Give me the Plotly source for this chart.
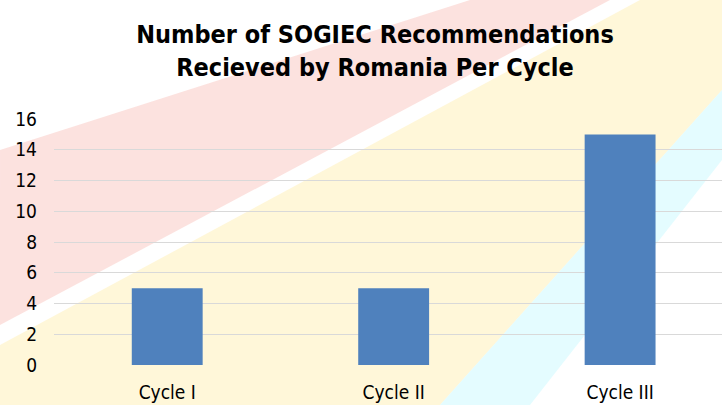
import plotly.graph_objects as go

categories = ["Cycle I", "Cycle II", "Cycle III"]
recommendations = [5, 5, 15]
y_ticks = [0, 2, 4, 6, 8, 10, 12, 14, 16]

W, H = 722, 405
L, R, T, B = 54, 0, 119, 40
pw, ph = W - L - R, H - T - B

def px(x, y):
    return (x - L) / pw, (H - B - y) / ph

def poly(points, color):
    pts = [px(x, y) for x, y in points]
    path = "M " + " L ".join(f"{a:.4f},{b:.4f}" for a, b in pts) + " Z"
    return dict(type="path", xref="paper", yref="paper", path=path,
                fillcolor=color, line=dict(width=0), layer="below")

shapes = [
    poly([(0, 150), (470, 0), (610, 0), (0, 325)], "rgba(248,190,185,0.45)"),
    poly([(0, 345), (640, 0), (722, 0), (722, 90), (440, 405), (0, 405)], "rgba(255,240,180,0.5)"),
    poly([(440, 405), (530, 405), (722, 160), (722, 90)], "rgba(205,250,255,0.55)"),
]

fig = go.Figure(go.Bar(
    x=categories, y=recommendations,
    marker=dict(color="#4f81bd", line=dict(width=0)),
    width=0.313,
))

font_fam = "DejaVu Sans Condensed, Liberation Sans Narrow, Arial Narrow, Liberation Sans, sans-serif"

fig.update_layout(
    width=W, height=H,
    margin=dict(l=L, r=R, t=T, b=B),
    paper_bgcolor="white", plot_bgcolor="rgba(0,0,0,0)",
    shapes=shapes,
    title=dict(
        text="<b>Number of SOGIEC Recommendations<br>Recieved by Romania Per Cycle</b>",
        x=375 / W, xanchor="center", y=1 - 43 / H, yanchor="middle",
        font=dict(family=font_fam, size=25, color="black"),
    ),
    xaxis=dict(
        range=[-0.5, 2.45], showgrid=False, zeroline=False, showline=False,
        ticks="", ticklabelstandoff=14, automargin=False,
        tickfont=dict(family=font_fam, size=19, color="black"),
    ),
    yaxis=dict(
        range=[0, 16], tickvals=y_ticks, showgrid=True, gridcolor="#d9d9d9",
        gridwidth=1.3, zeroline=False, showline=False, ticks="",
        ticklabelstandoff=16, automargin=False,
        tickfont=dict(family=font_fam, size=19, color="black"),
    ),
    showlegend=False,
)

fig.write_html("out.html", config={"displayModeBar": False},
               post_script="document.body.style.margin='0';")
